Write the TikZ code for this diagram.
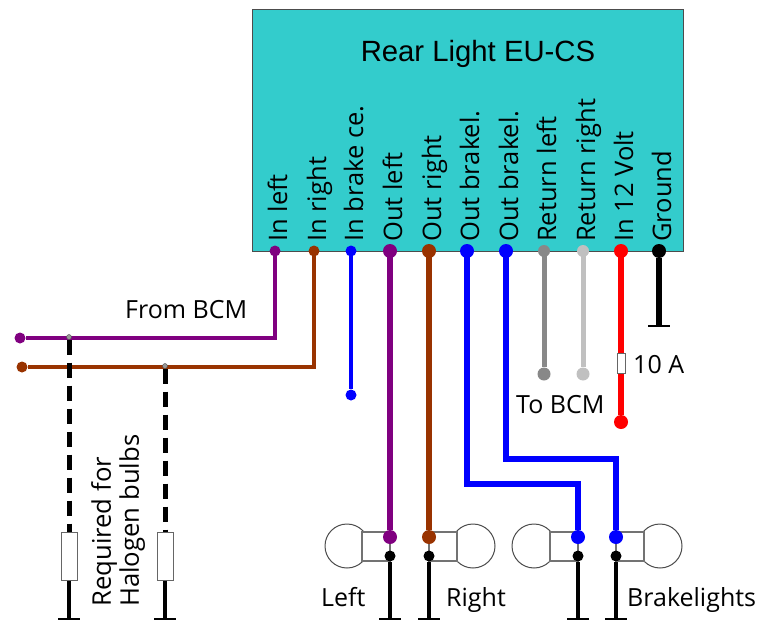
\documentclass[tikz,border=0pt]{standalone}
\usepackage{fontspec}
\setmainfont{Open Sans}
\newfontfamily\titlefont{Liberation Sans}
\definecolor{boxteal}{HTML}{33CCCC}
\definecolor{wirepurple}{HTML}{800080}
\definecolor{wirebrown}{HTML}{993300}
\definecolor{wiregray}{HTML}{888888}
\definecolor{wiresilver}{HTML}{C0C0C0}
\tikzset{
	wiredot/.style={circle,fill=#1,inner sep=0pt,minimum size=14pt},
	smalldot/.style={circle,fill=#1,inner sep=0pt,minimum size=11pt},
	tinydot/.style={circle,draw=black!70,fill=black!40,inner sep=0pt,minimum size=5pt},
	wire/.style={line width=6.5pt,color=#1,line join=miter},
	thinwire/.style={line width=4.5pt,color=#1,line join=miter},
	pinlabel/.style={rotate=90,anchor=base west,font=\fontsize{25.5}{25.5}\selectfont,inner sep=0pt},
	plainlabel/.style={anchor=base west,font=\fontsize{25}{25}\selectfont,inner sep=0pt},
	bulb/.style={circle,draw=black!70,line width=1pt,fill=white,inner sep=0pt,minimum size=44pt},
	socket/.style={rectangle,draw=black!55,line width=1.2pt,fill=white,inner sep=0pt,minimum width=#1,minimum height=29pt},
	resistor/.style={rectangle,draw=black!60,line width=1pt,fill=white,inner sep=0pt,minimum width=16pt,minimum height=48pt},
	fusebox/.style={rectangle,draw=black!60,line width=.8pt,fill=white,inner sep=0pt,minimum width=8pt,minimum height=20pt},
	groundbar/.style={line width=1.5pt,color=black},
}
\begin{document}
\begin{tikzpicture}[x=1pt,y=-1pt,line cap=butt]
\useasboundingbox (0,0) rectangle (761,621);
\node[draw=black!70,fill=boxteal,line width=1pt,minimum width=431pt,minimum height=242pt,inner sep=0pt] (unit) at (467.5,130) {};
\node[font=\titlefont\fontsize{29.3}{29.3}\selectfont] (title) at (478,54) {Rear Light EU-CS};

\foreach \x/\n/\t in {
275/inl/In left,
314/inr/In right,
351/inb/In brake ce.,
390/outl/Out left,
429/outr/Out right,
467/outba/Out brakel.,
506/outbb/Out brakel.,
544/retl/Return left,
583/retr/Return right,
621/pwr/In 12 Volt,
659/gnd/Ground
} {
	\node[pinlabel] (lab\n) at (\x+12,242) {\t};
	\coordinate (pin\n) at (\x,251);
}

% loose ends of the wires
\node[smalldot=wirepurple] (endinl) at (20,338) {};
\node[smalldot=wirebrown] (endinr) at (22,367) {};
\node[smalldot=blue] (endinb) at (351,395) {};
\node[smalldot=wiregray,minimum size=13pt] (endretl) at (544,374) {};
\node[smalldot=wiresilver,minimum size=13pt] (endretr) at (583,374) {};
\node[wiredot=red] (endpwr) at (621,422) {};

% bulbs, sockets on top
\foreach \x/\s/\n in {
347/376/a,
473/443/b,
534/564/c,
660/630/d
} {
	\node[bulb] (bulb\n) at (\x,546) {};
	\node[socket=28pt] (sock\n) at (\s,546.5) {};
}
\node[wiredot=wirepurple] (endoutl) at (390,537) {};
\node[wiredot=wirebrown] (endoutr) at (429,537) {};
\node[wiredot=blue] (endoutba) at (578,537) {};
\node[wiredot=blue] (endoutbb) at (616,537) {};

% wires from the unit
\draw[thinwire=wirepurple] (pininl) -- (275,338) -- (endinl);
\draw[thinwire=wirebrown] (pininr) -- (314,367) -- (endinr);
\draw[thinwire=blue] (pininb) -- (endinb);
\draw[wire=wirepurple] (pinoutl) -- (endoutl);
\draw[wire=wirebrown] (pinoutr) -- (endoutr);
\draw[wire=blue] (pinoutba) -- (467,484) -- (578,484) -- (endoutba);
\draw[wire=blue] (pinoutbb) -- (506,459) -- (616,459) -- (endoutbb);
\draw[wire=wiregray,line width=5pt] (pinretl) -- (endretl);
\draw[wire=wiresilver,line width=5pt] (pinretr) -- (endretr);
\draw[wire=red] (pinpwr) -- (endpwr);
\foreach \n/\wc/\ds in {
inl/wirepurple/11,
inr/wirebrown/11,
inb/blue/11,
outl/wirepurple/14,
outr/wirebrown/14,
outba/blue/14,
outbb/blue/14,
retl/wiregray/12,
retr/wiresilver/12,
pwr/red/14,
gnd/black/14
} {
	\node[smalldot=\wc,minimum size=\ds pt] (dot\n) at (pin\n) {};
}

% fuse and ground of the unit
\node[fusebox] (fuse) at (621,363) {};
\coordinate (gndbar) at (659,326);
\draw[wire=black] (dotgnd) -- (gndbar);
\draw[groundbar] (648,326) -- (670,326);

% ground wires of the bulbs
\foreach \x/\n in {
390/a,
429/b,
578/c,
616/d
} {
	\node[smalldot=black] (lamp\n) at (\x,556) {};
	\coordinate (foot\n) at (\x,619);
	\draw[thinwire=black] (lamp\n) -- (foot\n);
	\draw[groundbar] (\x-11,619) -- (\x+11,619);
}

% halogen resistors
\foreach \x/\y/\n in {
69/337/a,
165/366/b
} {
	\node[tinydot] (tap\n) at (\x,\y) {};
	\node[resistor] (res\n) at (\x,556) {};
	\coordinate (halofoot\n) at (\x,619);
	\draw[line width=5pt,black,dash pattern=on 15pt off 8pt] (tap\n) -- (res\n);
	\draw[thinwire=black] (res\n) -- (halofoot\n);
	\draw[groundbar] (\x-11,619) -- (\x+11,619);
}

\node[plainlabel] (frombcm) at (125,318) {From BCM};
\node[plainlabel] (tobcm) at (516,413) {To BCM};
\node[plainlabel] (fuselabel) at (633,373) {10 A};
\node[plainlabel] (leftlabel) at (321,606) {Left};
\node[plainlabel] (rightlabel) at (446,606) {Right};
\node[plainlabel] (brakelabel) at (627,606) {Brakelights};
\node[plainlabel,rotate=90,anchor=north west,align=left,font=\fontsize{25.7}{28}\selectfont] (halolabel) at (91,607) {Required for\\Halogen bulbs};
\end{tikzpicture}
\end{document}
